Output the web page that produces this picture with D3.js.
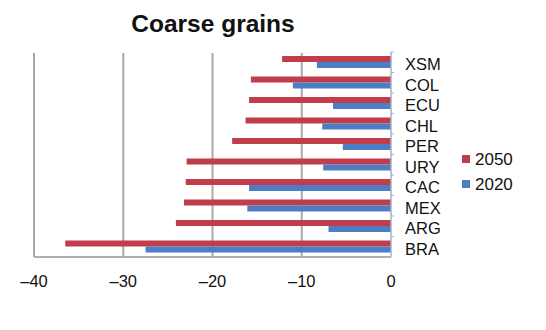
<!DOCTYPE html>
<html>
<head>
<meta charset="utf-8">
<script src="https://cdn.jsdelivr.net/npm/d3@7"></script>
<style>
  body { margin: 0; background: #fff; }
  text { font-family: "Liberation Sans", Arial, sans-serif; fill: #111; }
</style>
</head>
<body>
<svg id="chart" width="546" height="330"></svg>
<script>
/* data */
var regions = ["XSM", "COL", "ECU", "CHL", "PER", "URY", "CAC", "MEX", "ARG", "BRA"];
var v2050 = [-12.2, -15.7, -15.9, -16.3, -17.8, -22.9, -23.0, -23.2, -24.1, -36.5];
var v2020 = [-8.3, -11.0, -6.5, -7.7, -5.4, -7.6, -15.9, -16.1, -7.0, -27.5];
var xTicks = [-40, -30, -20, -10, 0];
var seriesNames = ["2050", "2020"];
var seriesColors = ["#c23d4b", "#4d7dc2"];

var svg = d3.select("#chart");

var x = d3.scaleLinear().domain([-40, 0]).range([34, 391]);
var y = d3.scaleBand().domain(regions).range([52, 257]);
var sub = d3.scaleBand().domain(seriesNames).range([4, y.bandwidth() - 4.5]).padding(0);

// title
svg.append("text")
  .attr("x", 213).attr("y", 32)
  .attr("text-anchor", "middle")
  .style("font-size", "24.5px").style("font-weight", "bold")
  .text("Coarse grains");

// vertical grid lines
svg.selectAll(".grid").data(xTicks.slice(0, -1)).enter().append("line")
  .attr("x1", function(d) { return x(d); }).attr("x2", function(d) { return x(d); })
  .attr("y1", 53).attr("y2", 257)
  .attr("stroke", "#a8a8a8").attr("stroke-width", 2);

// bottom axis line
svg.append("line")
  .attr("x1", x(-40)).attr("x2", x(0)).attr("y1", 257).attr("y2", 257)
  .attr("stroke", "#b0b0b0").attr("stroke-width", 2);

// bars
var rows = regions.map(function(r, i) { return { region: r, vals: [v2050[i], v2020[i]] }; });
var g = svg.selectAll(".row").data(rows).enter().append("g")
  .attr("transform", function(d) { return "translate(0," + y(d.region) + ")"; });

g.selectAll("rect").data(function(d) { return d.vals; }).enter().append("rect")
  .attr("x", function(d) { return x(d); })
  .attr("width", function(d) { return x(0) - x(d); })
  .attr("y", function(d, i) { return sub(seriesNames[i]); })
  .attr("height", sub.bandwidth())
  .attr("fill", function(d, i) { return seriesColors[i]; });

// zero axis with small ticks
svg.append("line")
  .attr("x1", x(0)).attr("x2", x(0)).attr("y1", 52).attr("y2", 257)
  .attr("stroke", "#9fb3cc").attr("stroke-width", 1.5);
svg.selectAll(".ytick").data(regions).enter().append("line")
  .attr("x1", x(0)).attr("x2", x(0) + 3)
  .attr("y1", function(d) { return y(d); }).attr("y2", function(d) { return y(d); })
  .attr("stroke", "#9fb3cc");

// category labels
svg.selectAll(".lab").data(regions).enter().append("text")
  .attr("x", 405)
  .attr("y", function(d) { return y(d) + y.bandwidth() / 2 + 8; })
  .style("font-size", "16.5px")
  .text(function(d) { return d; });

// x tick labels
svg.selectAll(".xl").data(xTicks).enter().append("text")
  .attr("x", function(d) { return x(d); })
  .attr("y", 287)
  .attr("text-anchor", "middle")
  .style("font-size", "16.5px")
  .text(function(d) { return d < 0 ? "\u2013" + Math.abs(d) : d; });

// legend
var leg = svg.selectAll(".leg").data(seriesNames).enter().append("g")
  .attr("transform", function(d, i) { return "translate(462," + (155 + i * 25) + ")"; });
leg.append("rect").attr("width", 8).attr("height", 8)
  .attr("fill", function(d, i) { return seriesColors[i]; });
leg.append("text").attr("x", 13).attr("y", 10)
  .style("font-size", "17px")
  .text(function(d) { return d; });
</script>
</body>
</html>
